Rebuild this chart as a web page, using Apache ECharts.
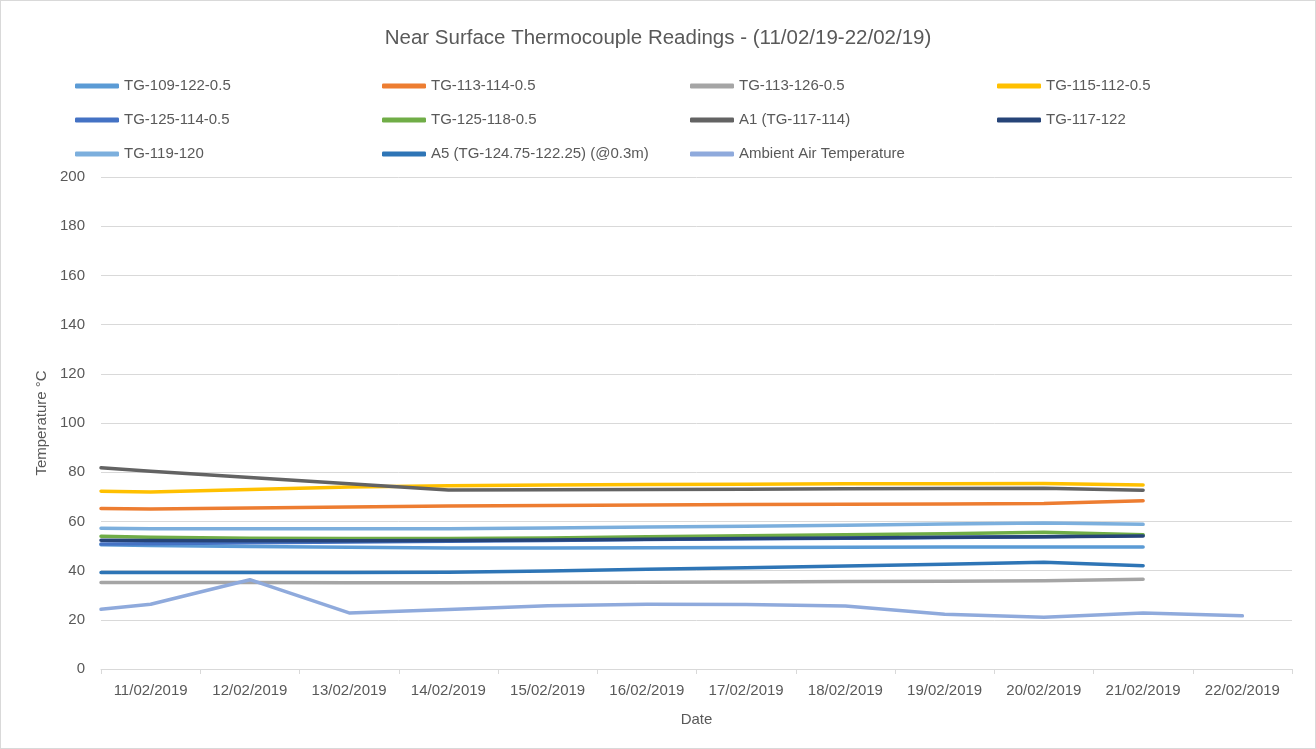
<!DOCTYPE html>
<html>
<head>
<meta charset="UTF-8">
<title>Near Surface Thermocouple Readings</title>
<script src="https://cdn.jsdelivr.net/npm/echarts@6/dist/echarts.min.js"></script>
<style>
  html, body { margin: 0; padding: 0; background: #fff; }
  #chart { width: 1314px; height: 747px; border: 1px solid #d9d9d9; }
</style>
</head>
<body>
<div id="chart"></div>
<script type="text/javascript">
// category labels on the x axis
var dateLabels = ['11/02/2019', '12/02/2019', '13/02/2019', '14/02/2019', '15/02/2019', '16/02/2019',
  '17/02/2019', '18/02/2019', '19/02/2019', '20/02/2019', '21/02/2019', '22/02/2019'];

// reading times, in days after 11/02/2019 00:00
var sampleDays = [0, 0.5, 1.5, 2.5, 3.5, 4.5, 5.5, 6.5, 7.5, 8.5, 9.5, 10.5];
var ambientDays = [0, 0.5, 1.5, 2.5, 3.5, 4.5, 5.5, 6.5, 7.5, 8.5, 9.5, 10.5, 11.5];

// readings in °C
var tg109_122 = [50.5, 50.2, 49.8, 49.5, 49.2, 49.2, 49.3, 49.4, 49.5, 49.6, 49.6, 49.6];
var tg113_114 = [65.2, 65.0, 65.4, 65.9, 66.3, 66.5, 66.7, 66.9, 67.0, 67.1, 67.3, 68.4];
var tg113_126 = [35.2, 35.2, 35.2, 35.1, 35.1, 35.2, 35.3, 35.4, 35.6, 35.7, 35.9, 36.5];
var tg115_112 = [72.3, 72.0, 73.0, 74.0, 74.5, 74.8, 75.0, 75.1, 75.3, 75.3, 75.4, 74.8];
var tg125_114 = [50.8, 50.9, 51.3, 51.6, 51.9, 52.2, 52.6, 52.9, 53.2, 53.5, 53.8, 54.4];
var tg125_118 = [54.0, 53.6, 53.2, 53.0, 53.0, 53.3, 53.8, 54.2, 54.6, 55.0, 55.6, 54.6];
var a1_117_114 = [81.8, 80.4, 77.8, 75.3, 72.8, 72.9, 73.0, 73.1, 73.3, 73.4, 73.5, 72.7];
var tg117_122 = [52.3, 52.2, 52.1, 52.1, 52.2, 52.4, 52.7, 53.0, 53.3, 53.6, 53.8, 54.1];
var tg119_120 = [57.2, 57.0, 57.0, 57.0, 57.0, 57.3, 57.7, 58.0, 58.4, 58.9, 59.4, 58.8];
var a5_124 = [39.2, 39.2, 39.2, 39.2, 39.3, 39.8, 40.5, 41.2, 41.9, 42.6, 43.4, 42.0];
var ambient = [24.3, 26.3, 36.3, 22.8, 24.2, 25.7, 26.3, 26.2, 25.6, 22.3, 21.0, 22.8, 21.6];

var yTicks = { min: 0, max: 200, interval: 20 };

var seriesDefs = [
  { name: 'TG-109-122-0.5', color: '#5b9bd5', days: sampleDays, values: tg109_122 },
  { name: 'TG-113-114-0.5', color: '#ed7d31', days: sampleDays, values: tg113_114 },
  { name: 'TG-113-126-0.5', color: '#a5a5a5', days: sampleDays, values: tg113_126 },
  { name: 'TG-115-112-0.5', color: '#ffc000', days: sampleDays, values: tg115_112 },
  { name: 'TG-125-114-0.5', color: '#4472c4', days: sampleDays, values: tg125_114 },
  { name: 'TG-125-118-0.5', color: '#70ad47', days: sampleDays, values: tg125_118 },
  { name: 'A1 (TG-117-114)', color: '#636363', days: sampleDays, values: a1_117_114 },
  { name: 'TG-117-122', color: '#264478', days: sampleDays, values: tg117_122 },
  { name: 'TG-119-120', color: '#7cafdd', days: sampleDays, values: tg119_120 },
  { name: 'A5 (TG-124.75-122.25) (@0.3m)', color: '#2e75b6', days: sampleDays, values: a5_124 },
  { name: 'Ambient Air Temperature', color: '#8faadc', days: ambientDays, values: ambient }
];

var legendColumns = [
  ['TG-109-122-0.5', 'TG-125-114-0.5', 'TG-119-120'],
  ['TG-113-114-0.5', 'TG-125-118-0.5', 'A5 (TG-124.75-122.25) (@0.3m)'],
  ['TG-113-126-0.5', 'A1 (TG-117-114)', 'Ambient Air Temperature'],
  ['TG-115-112-0.5', 'TG-117-122']
];
var legendLefts = [69, 376, 684, 991];

var fontFamily = '"Liberation Sans", Arial, sans-serif';
var textColor = '#595959';

var chart = echarts.init(document.getElementById('chart'));

var option = {
  animation: false,
  textStyle: { fontFamily: fontFamily },
  title: {
    text: 'Near Surface Thermocouple Readings - (11/02/19-22/02/19)',
    left: 'center',
    top: 22,
    textStyle: { color: textColor, fontSize: 20.5, fontWeight: 'normal', fontFamily: fontFamily }
  },
  legend: legendColumns.map(function (col, i) {
    return {
      data: col,
      orient: 'vertical',
      left: legendLefts[i],
      top: 72,
      itemWidth: 44,
      itemHeight: 5,
      itemGap: 18,
      icon: 'roundRect',
      selectedMode: false,
      textStyle: { color: textColor, fontSize: 15, lineHeight: 16, fontFamily: fontFamily }
    };
  }),
  grid: { left: 100, right: 23, top: 176, bottom: 79 },
  xAxis: [
    {
      type: 'category',
      data: dateLabels,
      boundaryGap: true,
      name: 'Date',
      nameLocation: 'middle',
      nameGap: 43,
      nameTextStyle: { color: textColor, fontSize: 15 },
      axisLine: { lineStyle: { color: '#d9d9d9', width: 1 } },
      axisTick: { show: true, length: 5, lineStyle: { color: '#d9d9d9' } },
      axisLabel: { color: textColor, fontSize: 15, margin: 14 },
      splitLine: { show: false }
    },
    {
      type: 'value',
      min: 0,
      max: dateLabels.length,
      show: false,
      splitLine: { show: false }
    }
  ],
  yAxis: {
    type: 'value',
    min: yTicks.min,
    max: yTicks.max,
    interval: yTicks.interval,
    name: 'Temperature °C',
    nameLocation: 'middle',
    nameGap: 51,
    nameTextStyle: { color: textColor, fontSize: 15 },
    axisLine: { show: false },
    axisTick: { show: false },
    axisLabel: { color: textColor, fontSize: 15, margin: 16 },
    splitLine: { lineStyle: { color: '#d9d9d9', width: 1 } }
  },
  series: seriesDefs.map(function (s) {
    return {
      name: s.name,
      type: 'line',
      xAxisIndex: 1,
      showSymbol: false,
      symbol: 'none',
      color: s.color,
      lineStyle: { color: s.color, width: 3.5, cap: 'round', join: 'round' },
      data: s.days.map(function (d, i) { return [d, s.values[i]]; })
    };
  })
};

chart.setOption(option);
</script>
</body>
</html>
